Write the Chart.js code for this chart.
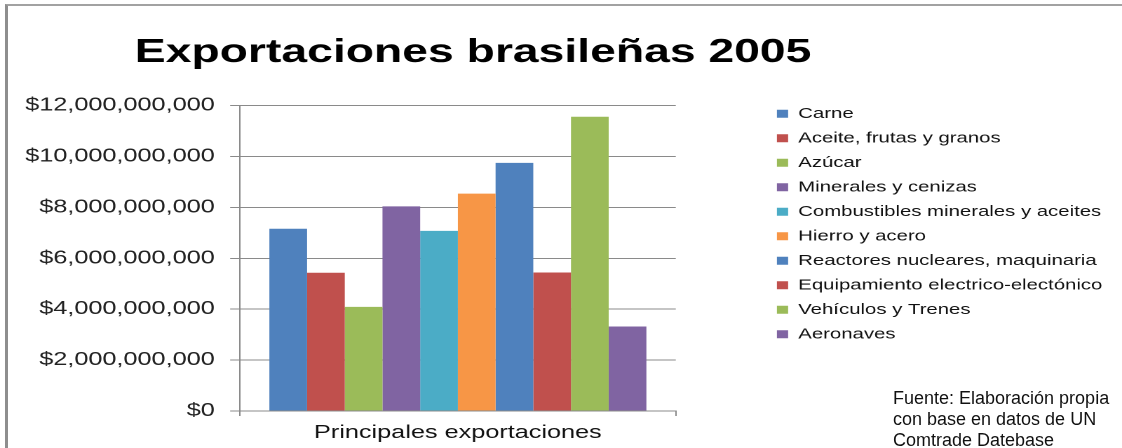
<!DOCTYPE html>
<html>
<head>
<meta charset="utf-8">
<script src="https://cdn.jsdelivr.net/npm/chart.js@4.4.1/dist/chart.umd.min.js"></script>
<style>
    html, body { margin: 0; padding: 0; background: #fff; }
    #marco { position: relative; width: 1122px; height: 448px; overflow: hidden; }
    #grafico { position: absolute; left: 0; top: 0; }
    #borde {
        position: absolute; left: 5px; top: 4px; width: 1117px; height: 442px;
        border-top: 2px solid #a2a2a2; border-left: 3px solid #8e8e8e; border-bottom: 1px solid #c6c6c6;
        pointer-events: none;
    }
    #fuente {
        position: absolute; left: 893px; top: 388px;
        font: 18px "Liberation Sans", Arial, sans-serif; line-height: 21px; color: #111;
    }
</style>
</head>
<body>
<div id="marco">
    <canvas id="grafico" width="800" height="448" style="width:1122px;height:448px"></canvas>
    <div id="borde"></div>
    <div id="fuente">Fuente: Elaboración propia<br>con base en datos de UN<br>Comtrade Datebase</div>
</div>
<script>
    // exportaciones de Brasil 2005, en dólares
    const categorias = ['Principales exportaciones']
    const productos = [
        'Carne',
        'Aceite, frutas y granos',
        'Azúcar',
        'Minerales y cenizas',
        'Combustibles minerales y aceites',
        'Hierro y acero',
        'Reactores nucleares, maquinaria',
        'Equipamiento electrico-electónico',
        'Vehículos y Trenes',
        'Aeronaves'
    ]
    const valores = [7160000000, 5430000000, 4090000000, 8040000000, 7080000000,
                     8540000000, 9750000000, 5440000000, 11560000000, 3320000000]
    const colores = ['#4F81BD', '#C0504D', '#9BBB59', '#8064A2', '#4BACC6',
                     '#F79646', '#4F81BD', '#C0504D', '#9BBB59', '#8064A2']
    const yMax = 12000000000
    const yPaso = 2000000000

    const fuente = '"Liberation Sans", Arial, sans-serif'
    const gris = '#8a8a8a'

    const datasets = productos.map((nombre, i) => ({
        label: nombre,
        data: [valores[i]],
        backgroundColor: colores[i],
        borderWidth: 0,
        barPercentage: 1,
        categoryPercentage: 0.865
    }))

    // la leyenda lateral no debe quedar limitada a la mitad del ancho disponible,
    // y el título arranca a la altura de las etiquetas del eje
    const ajustes = {
        id: 'ajustes',
        afterInit(chart) {
            const leyenda = chart.legend
            const fitBase = leyenda.fit
            leyenda.fit = function () {
                fitBase.call(this)
                if (!this.isHorizontal()) {
                    const anchoItem = Math.max(...this.legendHitBoxes.map(h => h.width))
                    this.width = anchoItem + this.options.labels.padding + 10
                }
            }
        },
        afterLayout(chart) {
            chart.titleBlock.left = chart.chartArea.left - 75
        }
    }

    const ctx = document.getElementById('grafico').getContext('2d')
    const grafico = new Chart(ctx, {
        type: 'bar',
        data: { labels: categorias, datasets: datasets },
        plugins: [ajustes],
        options: {
            responsive: false,
            devicePixelRatio: 2,
            animation: false,
            layout: { padding: { top: 4, left: 10, right: 4, bottom: 4 } },
            plugins: {
                title: {
                    display: true,
                    text: 'Exportaciones brasileñas 2005',
                    align: 'start',
                    color: '#000',
                    font: { family: fuente, size: 33, weight: 'bold' },
                    padding: { top: 29, bottom: 33 }
                },
                legend: {
                    position: 'right',
                    align: 'center',
                    labels: {
                        boxWidth: 8,
                        boxHeight: 8,
                        padding: 10,
                        color: '#111',
                        font: { family: fuente, size: 14.5 }
                    }
                },
                tooltip: { enabled: false }
            },
            scales: {
                x: {
                    grid: { drawOnChartArea: false, drawTicks: true, tickLength: 5, color: gris },
                    border: { color: gris },
                    ticks: { color: '#111', padding: 6, font: { family: fuente, size: 18 } },
                    afterFit: (scale) => { scale.height = 33 }
                },
                y: {
                    min: 0,
                    max: yMax,
                    ticks: {
                        stepSize: yPaso,
                        color: '#222',
                        padding: 11,
                        font: { family: fuente, size: 18 },
                        callback: (v) => '$' + v.toLocaleString('en-US')
                    },
                    grid: { color: gris, tickLength: 7 },
                    border: { color: gris },
                    afterFit: (scale) => { scale.width = 161.1 }
                },
                // hueco entre el área de barras y la leyenda
                hueco: {
                    position: 'right',
                    display: true,
                    grid: { display: false },
                    border: { display: false },
                    ticks: { display: false },
                    afterFit: (scale) => { scale.width = 62.1 }
                }
            }
        }
    })
</script>
</body>
</html>
